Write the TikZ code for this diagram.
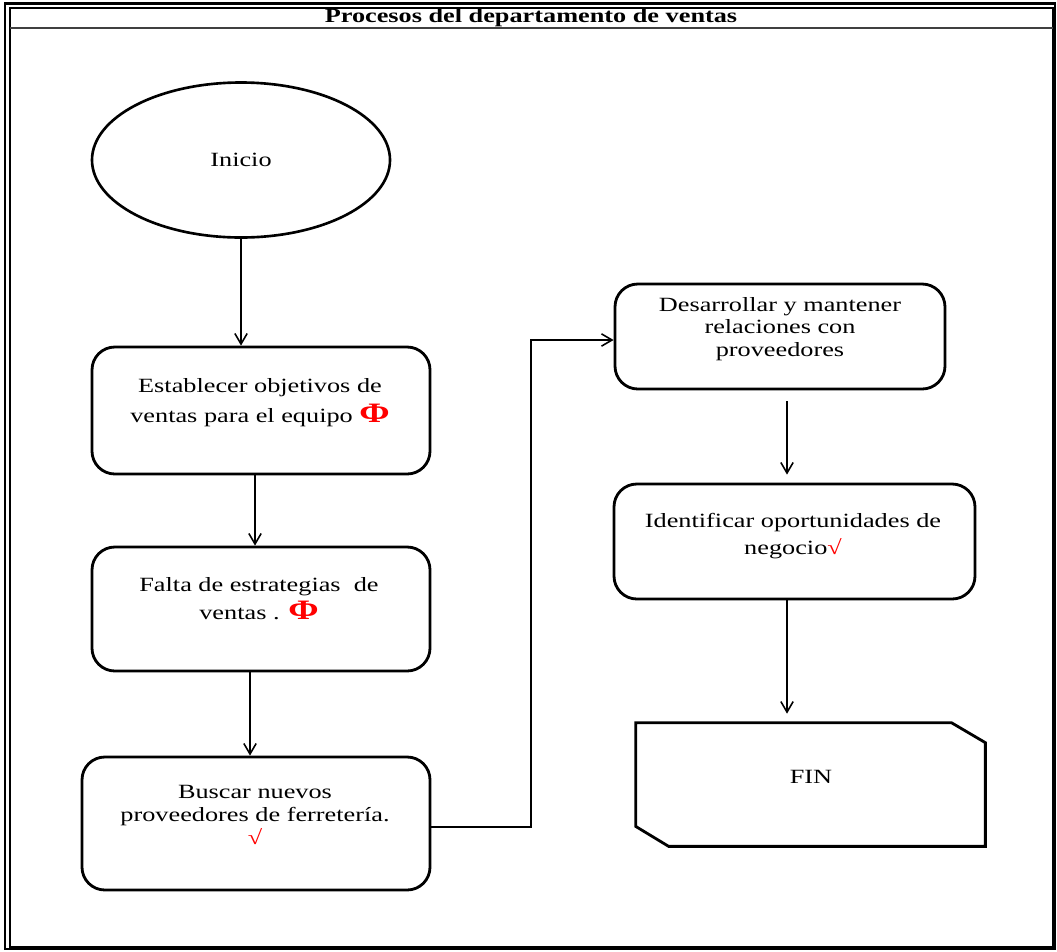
\documentclass[tikz,border=0pt]{standalone}
\usepackage{fontspec}
\setmainfont{Liberation Serif}[FakeStretch=1.3]
\usetikzlibrary{arrows.meta,shapes.geometric,calc}
\newlength{\pxu}\setlength{\pxu}{0.02cm}
\newcommand{\redphi}{\textcolor{red}{\textbf{\fontsize{16}{16}\selectfont Φ}}}
\newcommand{\redroot}{\textcolor{red}{\textbf{√}}}

\begin{document}
\begin{tikzpicture}[x=0.02cm,y=-0.02cm,
  procbox/.style={draw,line width=1.6pt,rounded corners=13pt,inner sep=0pt},
  flow/.style={line width=0.9pt,-{Straight Barb[length=6pt,width=7pt]}},
  lbl/.style={align=center,inner sep=0pt,font=\fontsize{11.5}{13}\selectfont}]

\useasboundingbox (0,0) rectangle (1057,951);

% page frame and title row
\draw[line width=1.3pt] (5,3.5) rectangle (1055,949);
\draw[line width=1pt] (10,8) rectangle (1053,947);
\draw[line width=1.3pt,draw=black!75] (10,28) -- (1053,28);
\node[font=\bfseries\fontsize{11.5}{14}\selectfont] (title) at (531,18) {Procesos del departamento de ventas};

% start
\node[draw,ellipse,line width=1.5pt,minimum width=298\pxu,minimum height=155\pxu,
      font=\fontsize{11.5}{13}\selectfont] (inicio) at (241,160) {Inicio};

% left column
\node[procbox,minimum width=338\pxu,minimum height=127\pxu] (b1) at (261,410.5) {};
\node[lbl] (t1) at (260,403) {Establecer objetivos de\\[4pt]ventas para el equipo \redphi};

\node[procbox,minimum width=338\pxu,minimum height=124\pxu] (b2) at (261,609) {};
\node[lbl] (t2) at (259,599) {Falta de estrategias \ de\\[3pt]ventas . \redphi};

\node[procbox,minimum width=348\pxu,minimum height=133\pxu] (b3) at (256,823.5) {};
\node[lbl] (t3) at (255,815) {Buscar nuevos\\proveedores de ferretería.\\\redroot};

% right column
\node[procbox,minimum width=330\pxu,minimum height=105\pxu] (b4) at (780,336.5) {};
\node[lbl] (t4) at (780,329) {Desarrollar y mantener\\relaciones con\\proveedores};

\node[procbox,minimum width=361\pxu,minimum height=115\pxu] (b5) at (794.5,541.5) {};
\node[lbl] (t5) at (793,536) {Identificar oportunidades de\\[2pt]negocio\redroot};

% end
\node[minimum width=349\pxu,minimum height=123\pxu,inner sep=0pt] (fin) at (810.5,784.5) {};
\draw[line width=1.6pt] ($(fin.north east)+(-34,0)$) -- ($(fin.north east)+(0,20)$)
  -- (fin.south east) -- ($(fin.south west)+(33,0)$) -- ($(fin.south west)+(0,-20)$)
  -- (fin.north west) -- cycle;
\node[lbl] (tfin) at (811,777) {FIN};

% connectors
\coordinate (x255) at (255,0);
\coordinate (x250) at (250,0);
\coordinate (x531) at (531,0);
\coordinate (x787) at (787,0);
\coordinate (b3out) at ([yshift=-3.5\pxu]b3.east);
\coordinate (b4in) at ([yshift=-3.5\pxu]b4.west);

\draw[flow] (inicio.south) -- (inicio.south |- b1.north);
\draw[flow] (b1.south -| x255) -- (b2.north -| x255);
\draw[flow] (b2.south -| x250) -- (b3.north -| x250);
\draw[flow] (b3out) -| (x531 |- b4in) -- (b4in);
\draw[flow,shorten <=11\pxu,shorten >=8\pxu] (b4.south -| x787) -- (b5.north -| x787);
\draw[flow,shorten >=9\pxu] (b5.south -| x787) -- (fin.north -| x787);

\end{tikzpicture}
\end{document}
